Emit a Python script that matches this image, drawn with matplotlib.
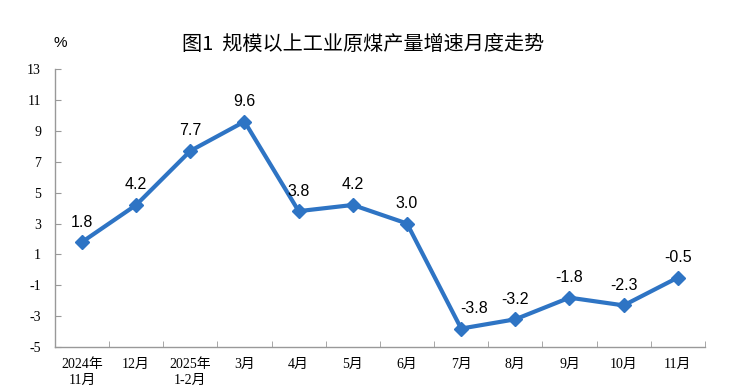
import matplotlib
matplotlib.use("Agg")
import matplotlib.pyplot as plt
import numpy as np

# 图1 规模以上工业原煤产量增速月度走势
months = ["2024年\n11月", "12月", "2025年\n1-2月", "3月", "4月", "5月", "6月",
          "7月", "8月", "9月", "10月", "11月"]
growth = [1.8, 4.2, 7.7, 9.6, 3.8, 4.2, 3.0, -3.8, -3.2, -1.8, -2.3, -0.5]
yticks = [-5, -3, -1, 1, 3, 5, 7, 9, 11, 13]

serif = ["Liberation Serif", "Noto Sans CJK SC"]
cjk = ["Noto Sans CJK SC", "DejaVu Sans"]
blue = "#2E74C4"

fig = plt.figure(figsize=(7.42, 3.9), dpi=100)
ax = fig.add_axes([0.074, 0.110, 0.876, 0.713])

x = np.arange(len(months))
ax.plot(x, growth, color=blue, lw=3, marker="D", ms=7, zorder=3)

for xi, v in zip(x, growth):
    dx = 9 if v == -3.8 else 0  # 7月 label sits to the right of the line
    ax.annotate(f"{v:.1f}", (xi, v), xytext=(dx, 9), textcoords="offset points",
                ha="center", va="bottom", fontsize=11.5, family="Liberation Sans")

ax.set_xlim(-0.5, len(months) - 0.5)
ax.set_ylim(-5, 13)
ax.set_yticks(yticks)
ax.set_yticklabels([str(t) for t in yticks], family=serif, fontsize=10)
ax.set_xticks(x)
ax.set_xticklabels(months, family=serif, fontsize=10, linespacing=1.3)
ax.set_xticks(np.arange(len(months) + 1) - 0.5, minor=True)
ax.tick_params(axis="x", which="major", length=0, pad=8)
ax.tick_params(axis="x", which="minor", direction="in", length=4, color="#999999")
ax.tick_params(axis="y", direction="in", length=4, color="#999999", pad=10)

for s in ["top", "right"]:
    ax.spines[s].set_visible(False)
for s in ["left", "bottom"]:
    ax.spines[s].set_color("#999999")
    ax.spines[s].set_linewidth(1)

fig.text(0.489, 0.885, "图1  规模以上工业原煤产量增速月度走势", ha="center", va="center",
         fontsize=14.5, family=cjk, fontweight="medium")
fig.text(0.081, 0.89, "%", ha="center", va="center", fontsize=11, family="Liberation Sans")

fig.savefig("out.png", dpi=100)
